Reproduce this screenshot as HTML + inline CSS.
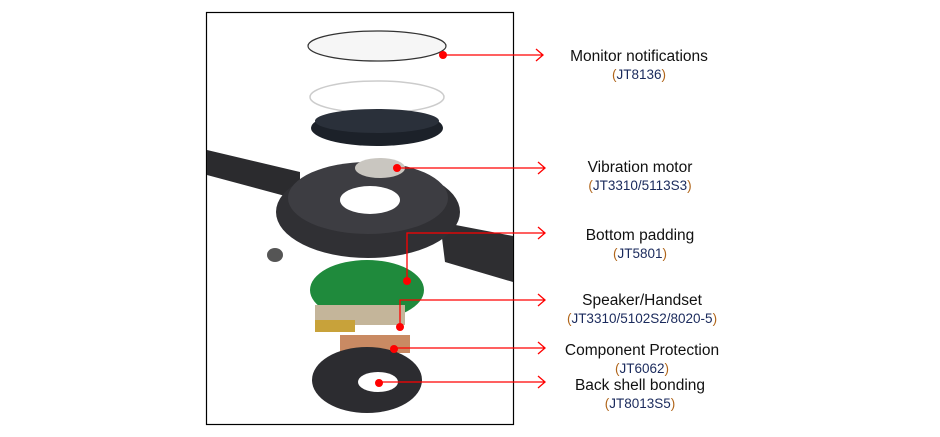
<!DOCTYPE html>
<html><head><meta charset="utf-8"><style>
body{margin:0;background:#fff;width:940px;height:437px;overflow:hidden;position:relative;font-family:"Liberation Sans",Arial,sans-serif}
.t{position:absolute;width:260px;text-align:center;font-size:15.5px;color:#111;line-height:18px}
.s{font-size:13.5px}
.c{color:#1a2a5c}.p{color:#b0651a}
</style></head><body>
<svg width="940" height="437" style="position:absolute;left:0;top:0">
<rect x="206.5" y="12.5" width="307" height="412" fill="none" stroke="#000" stroke-width="1.2"/>
<polygon points="207,150 300,172 300,200 207,175" fill="#2b2b2e"/>
<polygon points="440,222 513,236 513,282 445,262" fill="#2e2e31"/>
<ellipse cx="368" cy="212" rx="92" ry="46" fill="#303034"/>
<ellipse cx="368" cy="198" rx="80" ry="36" fill="#3d3d42"/>
<ellipse cx="370" cy="200" rx="30" ry="14" fill="#fff"/>
<ellipse cx="377" cy="46" rx="69" ry="15" fill="#f6f6f6" stroke="#333" stroke-width="1.2"/>
<ellipse cx="377" cy="97" rx="67" ry="16" fill="none" stroke="#ccc" stroke-width="1.5"/>
<ellipse cx="377" cy="128" rx="66" ry="18" fill="#1c2129"/>
<ellipse cx="377" cy="121" rx="62" ry="12" fill="#2a303a"/>
<ellipse cx="380" cy="168" rx="25" ry="10" fill="#c9c6c0"/>
<ellipse cx="275" cy="255" rx="8" ry="7" fill="#555"/>
<ellipse cx="367" cy="290" rx="57" ry="30" fill="#1f8a3c"/>
<rect x="315" y="305" width="90" height="20" fill="#c4b59a"/>
<rect x="315" y="320" width="40" height="12" fill="#c8a23a"/>
<rect x="340" y="335" width="70" height="18" fill="#c98a63"/>
<ellipse cx="367" cy="380" rx="55" ry="33" fill="#2c2c30"/>
<ellipse cx="378" cy="382" rx="20" ry="10" fill="#fff"/>
<g stroke="#f00" stroke-width="1.3" fill="none">
<path d="M443 55H543M536 49l7 6-7 6"/>
<path d="M397 168H545M538 162l7 6-7 6"/>
<path d="M407 280V233H545M538 227l7 6-7 6"/>
<path d="M400 327V300H545M538 294l7 6-7 6"/>
<path d="M394 348H545M538 342l7 6-7 6"/>
<path d="M379 382H545M538 376l7 6-7 6"/>
</g>
<g fill="#f00">
<circle cx="443" cy="55" r="4"/><circle cx="397" cy="168" r="4"/>
<circle cx="407" cy="281" r="4"/><circle cx="400" cy="327" r="4"/>
<circle cx="394" cy="349" r="4"/><circle cx="379" cy="383" r="4"/>
</g>
</svg>
<div class="t" style="left:509px;top:48px">Monitor notifications<br><span class="s"><span class="p">(</span><span class="c">JT8136</span><span class="p">)</span></span></div>
<div class="t" style="left:510px;top:159px">Vibration motor<br><span class="s"><span class="p">(</span><span class="c">JT3310/5113S3</span><span class="p">)</span></span></div>
<div class="t" style="left:510px;top:227px">Bottom padding<br><span class="s"><span class="p">(</span><span class="c">JT5801</span><span class="p">)</span></span></div>
<div class="t" style="left:512px;top:292px">Speaker/Handset<br><span class="s"><span class="p">(</span><span class="c">JT3310/5102S2/8020-5</span><span class="p">)</span></span></div>
<div class="t" style="left:512px;top:342px">Component Protection<br><span class="s"><span class="p">(</span><span class="c">JT6062</span><span class="p">)</span></span></div>
<div class="t" style="left:510px;top:377px">Back shell bonding<br><span class="s"><span class="p">(</span><span class="c">JT8013S5</span><span class="p">)</span></span></div>
</body></html>
